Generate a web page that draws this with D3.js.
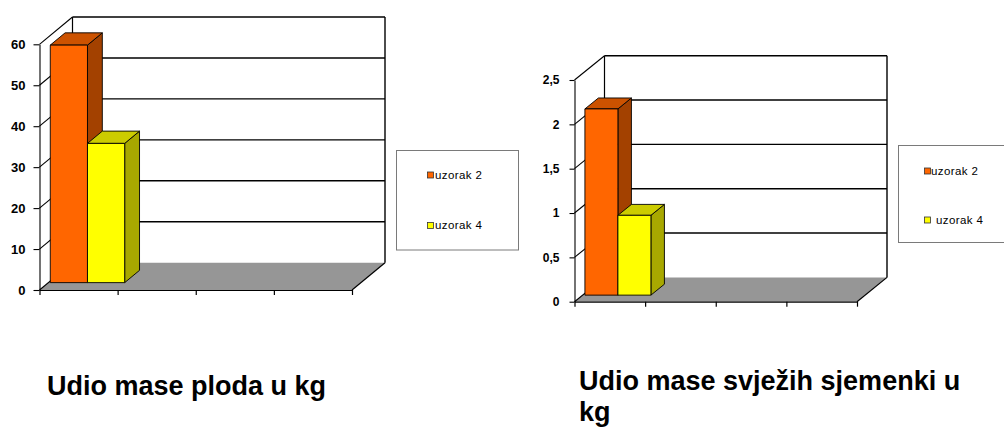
<!DOCTYPE html>
<html>
<head>
<meta charset="utf-8">
<script src="https://cdn.jsdelivr.net/npm/d3@7"></script>
<style>
  html, body { margin: 0; padding: 0; background: #fff; }
  svg { display: block; font-family: "Liberation Sans", Arial, sans-serif; }
</style>
</head>
<body>
<svg id="chart" width="1004" height="429"></svg>
<script>
// ---- data ----
const categories = ["1", "2", "3", "4"];
const seriesNames = ["uzorak 2", "uzorak 4"];

// Udio mase ploda (kg)
const plodaUzorak2 = [58, null, null, null];
const plodaUzorak4 = [34, null, null, null];
const plodaTicks = [0, 10, 20, 30, 40, 50, 60];
const plodaTickLabels = ["0", "10", "20", "30", "40", "50", "60"];

// Udio mase svježih sjemenki (kg)
const sjemenkeUzorak2 = [2.1, null, null, null];
const sjemenkeUzorak4 = [0.9, null, null, null];
const sjemenkeTicks = [0, 0.5, 1, 1.5, 2, 2.5];
const sjemenkeTickLabels = ["0", "0,5", "1", "1,5", "2", "2,5"];

const plodaTitle = ["Udio mase ploda u kg"];
const sjemenkeTitle = ["Udio mase svježih sjemenki u", "kg"];

// ---- styling ----
const faceColors = {
  "uzorak 2": { front: "#FF6600", top: "#CC5200", side: "#A34100" },
  "uzorak 4": { front: "#FFFF00", top: "#CCCC00", side: "#A8A800" }
};
const floorColor = "#969696";
const depthFront = 0.27, depthBack = 0.72;

const svg = d3.select("#chart");

function drawChart(o) {
  const g = svg.append("g");
  const y = d3.scaleLinear().domain([0, o.ticks[o.ticks.length - 1]]).range([o.y0, o.yTop]);
  const x0 = d3.scaleBand().domain(categories).range([o.xLeft, o.xRight]).padding(0);
  const x1 = d3.scaleBand().domain(seriesNames).range([0, x0.bandwidth()]).paddingInner(0).paddingOuter(o.groupPad);
  const xIdx = d3.scaleLinear().domain([0, categories.length]).range([o.xLeft, o.xRight]);
  const dx = o.dx, dy = o.dy;
  const P = (x, v, f) => [x + f * dx, y(v) - f * dy];
  const yMax = y.domain()[1];

  // back wall
  const backL = o.xLeft + dx, backR = o.xRight + dx;
  g.append("rect")
    .attr("x", backL).attr("y", y(yMax) - dy)
    .attr("width", backR - backL).attr("height", y(0) - y(yMax))
    .attr("fill", "#fff");
  // back wall gridlines
  g.selectAll(".bgrid").data(o.ticks.filter(t => t > 0)).join("line")
    .attr("x1", backL).attr("x2", backR)
    .attr("y1", d => y(d) - dy).attr("y2", d => y(d) - dy)
    .attr("stroke", "#000").attr("stroke-width", 1.4);
  // back wall edges
  g.append("line").attr("x1", backL).attr("x2", backL)
    .attr("y1", y(yMax) - dy).attr("y2", y(0) - dy)
    .attr("stroke", "#000").attr("stroke-width", 1.2);
  g.append("line").attr("x1", backR).attr("x2", backR)
    .attr("y1", y(yMax) - dy).attr("y2", y(0) - dy)
    .attr("stroke", "#000").attr("stroke-width", 1.4);

  // side wall gridlines
  g.selectAll(".sgrid").data(o.ticks.filter(t => t > 0)).join("line")
    .attr("x1", o.xLeft).attr("y1", d => y(d))
    .attr("x2", o.xLeft + dx).attr("y2", d => y(d) - dy)
    .attr("stroke", "#000").attr("stroke-width", 1.1);

  // floor
  const floorPts = [P(o.xLeft, 0, 0), P(o.xRight, 0, 0), P(o.xRight, 0, 1), P(o.xLeft, 0, 1)];
  g.append("polygon").attr("points", floorPts.map(p => p.join(",")).join(" "))
    .attr("fill", floorColor);
  g.append("line").attr("x1", floorPts[1][0]).attr("y1", floorPts[1][1])
    .attr("x2", floorPts[2][0]).attr("y2", floorPts[2][1])
    .attr("stroke", "#000").attr("stroke-width", 1.2);
  g.append("line").attr("x1", floorPts[0][0]).attr("y1", floorPts[0][1])
    .attr("x2", floorPts[3][0]).attr("y2", floorPts[3][1])
    .attr("stroke", "#000").attr("stroke-width", 1.1);

  // bars
  const bars = [];
  categories.forEach((c, i) => {
    seriesNames.forEach((s, j) => {
      const v = o.values[j][i];
      if (v != null) bars.push({ c, s, v });
    });
  });
  bars.forEach(b => {
    const xa = x0(b.c) + x1(b.s), xb = xa + x1.bandwidth();
    const col = faceColors[b.s];
    const bg = g.append("g").attr("stroke", "#000").attr("stroke-width", 0.9).attr("stroke-linejoin", "round");
    const side = [P(xb, b.v, depthFront), P(xb, b.v, depthBack), P(xb, 0, depthBack), P(xb, 0, depthFront)];
    const top = [P(xa, b.v, depthFront), P(xb, b.v, depthFront), P(xb, b.v, depthBack), P(xa, b.v, depthBack)];
    const front = [P(xa, b.v, depthFront), P(xb, b.v, depthFront), P(xb, 0, depthFront), P(xa, 0, depthFront)];
    bg.append("polygon").attr("points", side.map(p => p.join(",")).join(" ")).attr("fill", col.side);
    bg.append("polygon").attr("points", top.map(p => p.join(",")).join(" ")).attr("fill", col.top);
    bg.append("polygon").attr("points", front.map(p => p.join(",")).join(" ")).attr("fill", col.front);
  });

  // value axis (front)
  const yAxis = d3.axisLeft(y).tickValues(o.ticks)
    .tickFormat((d, i) => o.tickLabels[i])
    .tickSize(o.tickSize).tickSizeOuter(0).tickPadding(o.tickPadding);
  const ya = g.append("g").attr("transform", `translate(${o.xLeft},0)`).call(yAxis);
  ya.selectAll("path, line").attr("stroke", "#000").attr("stroke-width", 1.1);
  ya.selectAll("text").attr("font-family", "'Liberation Sans', Arial, sans-serif")
    .attr("font-size", o.labelSize).attr("font-weight", "bold").attr("fill", "#000");

  // category axis (front)
  const xAxis = d3.axisBottom(xIdx).ticks(categories.length).tickFormat("")
    .tickSize(5).tickSizeOuter(0);
  const xa = g.append("g").attr("transform", `translate(0,${y(0)})`).call(xAxis);
  xa.selectAll("path, line").attr("stroke", "#000").attr("stroke-width", 1.2);

  // legend
  const L = o.legend;
  g.append("rect").attr("x", L.x).attr("y", L.y).attr("width", L.w).attr("height", L.h)
    .attr("fill", "#fff").attr("stroke", "#7a7a7a").attr("stroke-width", 1);
  seriesNames.forEach((s, j) => {
    const it = L.items[j];
    g.append("rect").attr("x", it.sx).attr("y", it.sy).attr("width", 6).attr("height", 6)
      .attr("fill", faceColors[s].front).attr("stroke", "#333").attr("stroke-width", 0.8);
    g.append("text").attr("x", it.tx).attr("y", it.ty)
      .attr("font-size", 11.5).attr("letter-spacing", 0.4).attr("fill", "#000").text(s);
  });

  // title
  const t = g.append("text").attr("x", o.title.x).attr("y", o.title.y)
    .attr("font-size", 27).attr("font-weight", "bold").attr("fill", "#000");
  o.title.lines.forEach((line, i) => {
    t.append("tspan").attr("x", o.title.x).attr("dy", i === 0 ? 0 : 31).text(line);
  });
}

drawChart({
  xLeft: 39.5, xRight: 352, y0: 290, yTop: 44.3, dx: 33, dy: 27.3,
  groupPad: 0.05,
  values: [plodaUzorak2, plodaUzorak4],
  ticks: plodaTicks, tickLabels: plodaTickLabels,
  tickSize: 6, tickPadding: 8, labelSize: 13,
  legend: {
    x: 396.5, y: 150.5, w: 122, h: 99.5,
    items: [{ sx: 427.5, sy: 172, tx: 435, ty: 178.5 },
            { sx: 427.5, sy: 222.5, tx: 435, ty: 229 }]
  },
  title: { x: 47, y: 395, lines: plodaTitle }
});

drawChart({
  xLeft: 574.5, xRight: 857, y0: 301.7, yTop: 80, dx: 30, dy: 24.3,
  groupPad: 0.07,
  values: [sjemenkeUzorak2, sjemenkeUzorak4],
  ticks: sjemenkeTicks, tickLabels: sjemenkeTickLabels,
  tickSize: 5, tickPadding: 10, labelSize: 12,
  legend: {
    x: 898.5, y: 145.5, w: 120, h: 97,
    items: [{ sx: 924.5, sy: 168, tx: 931, ty: 175 },
            { sx: 924.5, sy: 217, tx: 936, ty: 224 }]
  },
  title: { x: 579, y: 390, lines: sjemenkeTitle }
});
</script>
</body>
</html>
